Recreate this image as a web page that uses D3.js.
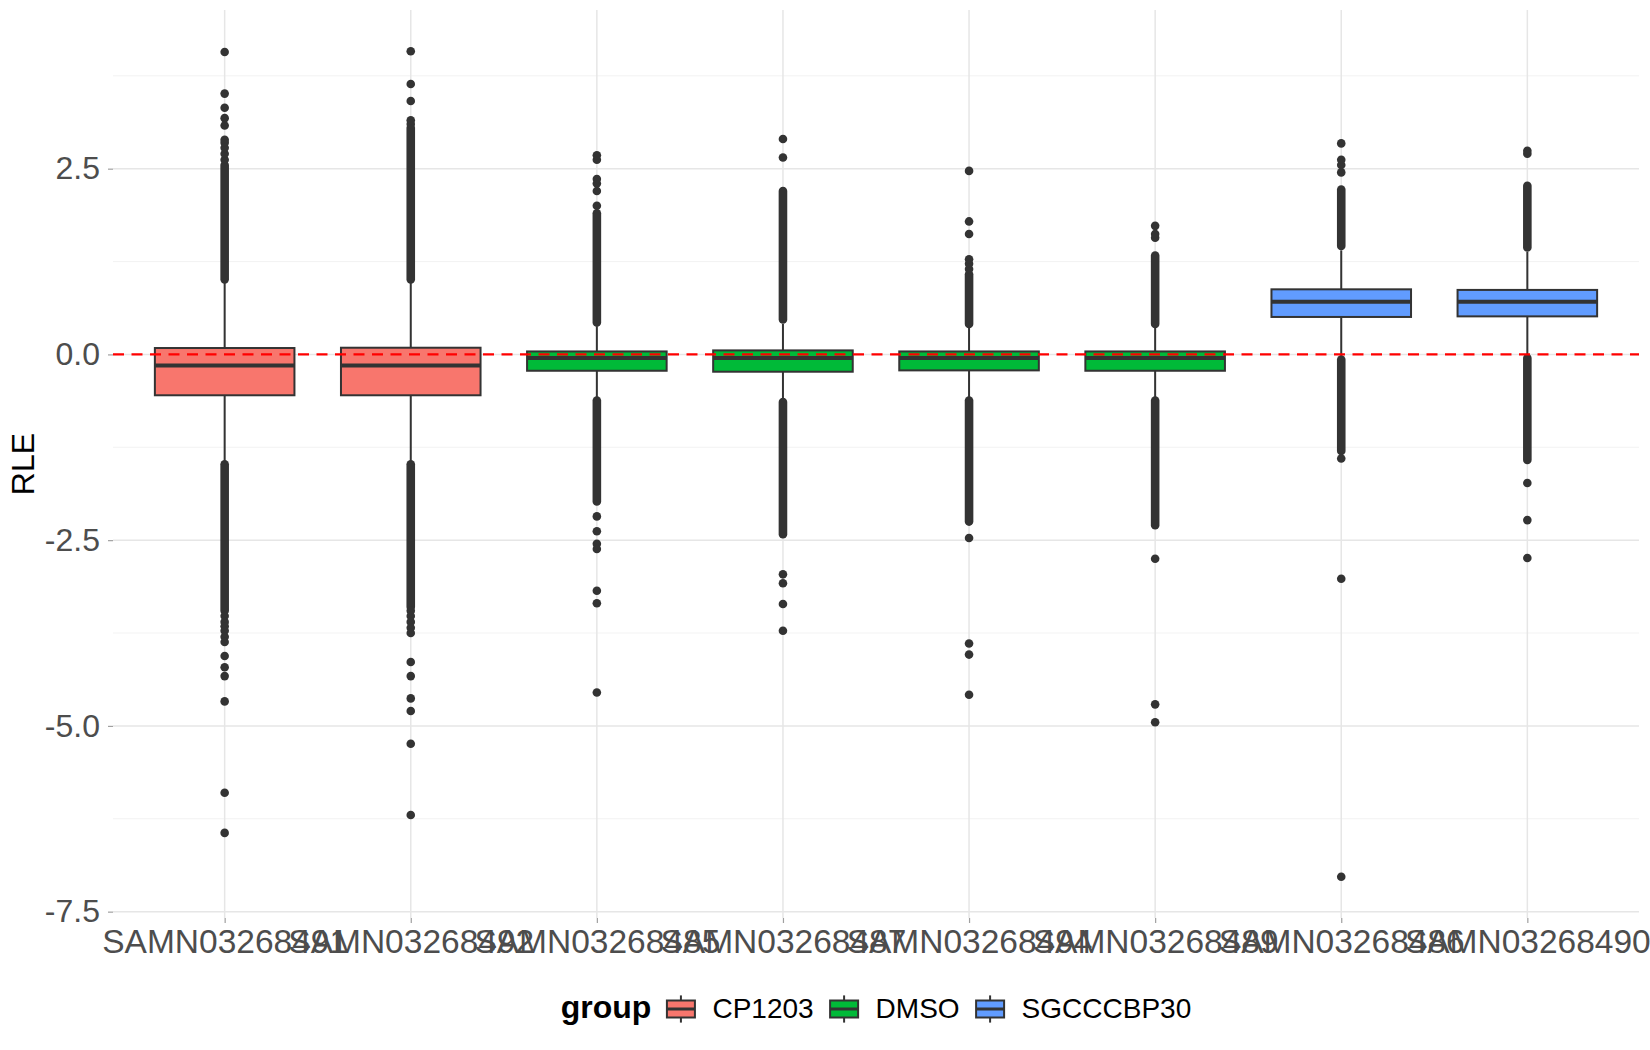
<!DOCTYPE html>
<html>
<head>
<meta charset="utf-8">
<script src="https://cdn.jsdelivr.net/npm/d3@7"></script>
<style>
  body { margin: 0; background: #fff; }
  text { font-family: "Liberation Sans", Arial, sans-serif; }
</style>
</head>
<body>
<div id="chart"></div>
<script>
// samples and their treatment group
const samples = ["SAMN03268491", "SAMN03268492", "SAMN03268485", "SAMN03268487",
                 "SAMN03268494", "SAMN03268489", "SAMN03268486", "SAMN03268490"];
const sampleGroup = ["CP1203", "CP1203", "DMSO", "DMSO", "DMSO", "DMSO", "SGCCCBP30", "SGCCCBP30"];
const groups = ["CP1203", "DMSO", "SGCCCBP30"];
const groupColors = ["#F8766D", "#00BA38", "#619CFF"];

// box statistics (RLE)
const q1          = [-0.55, -0.55, -0.22, -0.233, -0.215, -0.22, 0.504, 0.512];
const median      = [-0.148, -0.148, -0.05, -0.05, -0.05, -0.05, 0.71, 0.71];
const q3          = [0.086, 0.09, 0.04, 0.054, 0.04, 0.04, 0.876, 0.868];
const whiskerLow  = [-1.44, -1.44, -0.58, -0.6, -0.58, -0.58, -0.04, -0.02];
const whiskerHigh = [0.98, 0.98, 0.38, 0.41, 0.36, 0.36, 1.40, 1.38];

// stretches where the outliers overlap into a solid streak [from, to]
const denseUpper = [[1.01, 2.55], [1.01, 3.05], [0.43, 1.9], [0.47, 2.2],
                    [0.41, 1.08], [0.41, 1.33], [1.46, 2.22], [1.44, 2.27]];
const denseLower = [[-1.48, -3.45], [-1.48, -3.4], [-0.62, -1.98], [-0.64, -2.42],
                    [-0.62, -2.25], [-0.62, -2.3], [-0.07, -1.3], [-0.05, -1.42]];

// separate outlier points
const outliers = [
  [2.62, 2.7, 2.78, 2.85, 2.89, 3.08, 3.18, 3.32, 3.51, 4.07,
   -3.52, -3.6, -3.66, -3.72, -3.8, -3.87, -4.06, -4.21, -4.33, -4.67, -5.9, -6.44],
  [3.1, 3.15, 3.41, 3.64, 4.08,
   -3.45, -3.52, -3.6, -3.68, -3.75, -4.14, -4.33, -4.63, -4.8, -5.24, -6.2],
  [2.0, 2.2, 2.3, 2.36, 2.62, 2.68,
   -2.18, -2.38, -2.55, -2.62, -3.18, -3.35, -4.55],
  [2.65, 2.9, -2.96, -3.08, -3.36, -3.72],
  [1.15, 1.22, 1.28, 1.62, 1.79, 2.47, -2.47, -3.89, -4.04, -4.58],
  [1.57, 1.62, 1.73, -2.75, -4.71, -4.95],
  [2.45, 2.55, 2.62, 2.84, -1.4, -3.02, -7.03],
  [2.7, 2.74, -1.73, -2.23, -2.74]
];

const yTicks = [-7.5, -5, -2.5, 0, 2.5];
const yTickLabels = ["-7.5", "-5.0", "-2.5", "0.0", "2.5"];
const yMinorTicks = [-6.25, -3.75, -1.25, 1.25, 3.75];
const refLine = 0;

const W = 1650, H = 1050;
const panel = {left: 113, right: 1639, top: 10, bottom: 918};

const svg = d3.select("#chart").append("svg")
  .attr("width", W)
  .attr("height", H);

// scales
let allVals = [];
outliers.forEach(o => allVals = allVals.concat(o));
denseUpper.concat(denseLower).forEach(b => allVals = allVals.concat(b));
let lo = d3.min(allVals), hi = d3.max(allVals);
let pad = (hi - lo) * 0.05;

const x = d3.scalePoint()
  .domain(samples)
  .range([panel.left, panel.right])
  .padding(0.6);
const y = d3.scaleLinear()
  .domain([lo - pad, hi + pad])
  .range([panel.bottom, panel.top]);
const color = d3.scaleOrdinal().domain(groups).range(groupColors);
const boxW = x.step() * 0.75;

// grid
svg.append("g").selectAll("line")
  .data(yMinorTicks).enter()
  .append("line")
  .attr("x1", panel.left).attr("x2", panel.right)
  .attr("y1", d => y(d)).attr("y2", d => y(d))
  .attr("stroke", "#F0F0F0").attr("stroke-width", 0.9);
svg.append("g").selectAll("line")
  .data(yTicks).enter()
  .append("line")
  .attr("x1", panel.left).attr("x2", panel.right)
  .attr("y1", d => y(d)).attr("y2", d => y(d))
  .attr("stroke", "#E6E6E6").attr("stroke-width", 1.5);
svg.append("g").selectAll("line")
  .data(samples).enter()
  .append("line")
  .attr("x1", d => x(d)).attr("x2", d => x(d))
  .attr("y1", panel.top).attr("y2", panel.bottom)
  .attr("stroke", "#E6E6E6").attr("stroke-width", 1.5);

// y axis
const yAxis = svg.append("g")
  .attr("transform", `translate(${panel.left},0)`)
  .call(d3.axisLeft(y).tickValues(yTicks)
    .tickFormat((d, i) => yTickLabels[i])
    .tickSize(5).tickPadding(8));
yAxis.select(".domain").remove();
yAxis.selectAll(".tick line").attr("stroke", "#A0A0A0").attr("stroke-width", 1.2);
yAxis.selectAll(".tick text")
  .attr("fill", "#4D4D4D")
  .style("font-size", "32px")
  .style("font-family", "Liberation Sans, Arial, sans-serif");

// x axis
const xAxis = svg.append("g")
  .attr("transform", `translate(0,${panel.bottom})`)
  .call(d3.axisBottom(x).tickSize(5).tickPadding(6));
xAxis.select(".domain").remove();
xAxis.selectAll(".tick line").attr("stroke", "#A0A0A0").attr("stroke-width", 1.2);
xAxis.selectAll(".tick text")
  .attr("fill", "#4D4D4D")
  .attr("dy", null)
  .attr("y", 35)
  .style("font-size", "33.5px")
  .style("font-family", "Liberation Sans, Arial, sans-serif");

// axis title
svg.append("text")
  .attr("transform", `translate(23,${(panel.top + panel.bottom) / 2}) rotate(-90)`)
  .attr("text-anchor", "middle")
  .attr("dominant-baseline", "central")
  .style("font-size", "32px")
  .attr("fill", "#000")
  .text("RLE");

// boxes
const boxes = svg.append("g").selectAll("g")
  .data(samples).enter()
  .append("g")
  .attr("class", "box");

// outlier streaks
boxes.append("line")
  .attr("x1", d => x(d)).attr("x2", d => x(d))
  .attr("y1", (d, i) => y(denseUpper[i][0])).attr("y2", (d, i) => y(denseUpper[i][1]))
  .attr("stroke", "#333333").attr("stroke-width", 8.6).attr("stroke-linecap", "round");
boxes.append("line")
  .attr("x1", d => x(d)).attr("x2", d => x(d))
  .attr("y1", (d, i) => y(denseLower[i][0])).attr("y2", (d, i) => y(denseLower[i][1]))
  .attr("stroke", "#333333").attr("stroke-width", 8.6).attr("stroke-linecap", "round");

// single outliers
boxes.each(function(d, i) {
  d3.select(this).selectAll("circle")
    .data(outliers[i]).enter()
    .append("circle")
    .attr("cx", x(d))
    .attr("cy", v => y(v))
    .attr("r", 4.3)
    .attr("fill", "#333333");
});

// whiskers
boxes.append("line")
  .attr("x1", d => x(d)).attr("x2", d => x(d))
  .attr("y1", (d, i) => y(q3[i])).attr("y2", (d, i) => y(whiskerHigh[i]))
  .attr("stroke", "#333333").attr("stroke-width", 2);
boxes.append("line")
  .attr("x1", d => x(d)).attr("x2", d => x(d))
  .attr("y1", (d, i) => y(q1[i])).attr("y2", (d, i) => y(whiskerLow[i]))
  .attr("stroke", "#333333").attr("stroke-width", 2);

// box body
boxes.append("rect")
  .attr("x", d => x(d) - boxW / 2)
  .attr("width", boxW)
  .attr("y", (d, i) => y(q3[i]))
  .attr("height", (d, i) => y(q1[i]) - y(q3[i]))
  .attr("fill", (d, i) => color(sampleGroup[i]))
  .attr("stroke", "#333333").attr("stroke-width", 2);

// median
boxes.append("line")
  .attr("x1", d => x(d) - boxW / 2).attr("x2", d => x(d) + boxW / 2)
  .attr("y1", (d, i) => y(median[i])).attr("y2", (d, i) => y(median[i]))
  .attr("stroke", "#333333").attr("stroke-width", 4);

// dashed reference line at 0
svg.append("line")
  .attr("x1", panel.left).attr("x2", panel.right)
  .attr("y1", y(refLine)).attr("y2", y(refLine))
  .attr("stroke", "#FF0000").attr("stroke-width", 2.2)
  .attr("stroke-dasharray", "11,7.5");

// legend
const legendY = 1009;
const keyW = 35, keyH = 34;
const legend = svg.append("g");
const title = legend.append("text")
  .attr("y", legendY + 9)
  .style("font-size", "32px")
  .style("font-weight", "bold")
  .attr("fill", "#000")
  .text("group");
let cx = title.node().getComputedTextLength() + 12;
groups.forEach(function(g, i) {
  const key = legend.append("g").attr("transform", `translate(${cx},${legendY})`);
  key.append("line")
    .attr("x1", keyW / 2).attr("x2", keyW / 2)
    .attr("y1", -keyH * 0.4).attr("y2", keyH * 0.4)
    .attr("stroke", "#333333").attr("stroke-width", 2);
  key.append("rect")
    .attr("x", keyW * 0.1).attr("width", keyW * 0.8)
    .attr("y", -keyH * 0.25).attr("height", keyH * 0.5)
    .attr("fill", groupColors[i])
    .attr("stroke", "#333333").attr("stroke-width", 2);
  key.append("line")
    .attr("x1", keyW * 0.1).attr("x2", keyW * 0.9)
    .attr("y1", 0).attr("y2", 0)
    .attr("stroke", "#333333").attr("stroke-width", 3);
  cx += keyW + 14;
  const label = legend.append("text")
    .attr("x", cx)
    .attr("y", legendY + 9)
    .style("font-size", "28px")
    .attr("fill", "#000")
    .text(g);
  cx += label.node().getComputedTextLength() + 13;
});
const legendW = cx - 13;
legend.attr("transform", `translate(${(panel.left + panel.right) / 2 - legendW / 2},0)`);
</script>
</body>
</html>
